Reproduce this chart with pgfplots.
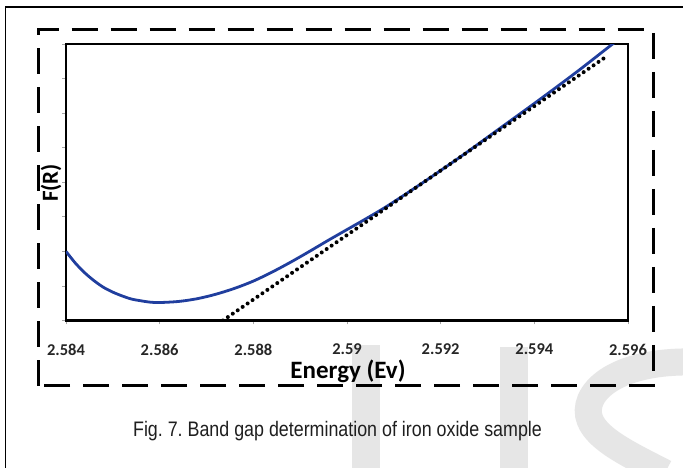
\documentclass[border=0pt]{standalone}
\usepackage{pgfplots}
\pgfplotsset{compat=1.18}
\usepackage{fontspec}
\setmainfont{Liberation Sans}
\newfontfamily\carlito{Carlito}
\definecolor{curveblue}{RGB}{32,62,158}
\definecolor{wm}{RGB}{230,230,230}
\frenchspacing
\begin{document}
\begin{tikzpicture}[x=1pt,y=1pt]
\useasboundingbox (0,0) rectangle (683,468);
\clip (0,0) rectangle (683,468);
\fill[white] (0,0) rectangle (683,468);
% watermark
\fill[wm] (352,0) rectangle (380,123);
\fill[wm] (500,0) rectangle (528,121);
\draw[wm, line width=27pt] (695,106) .. controls (612,108) and (580,73) .. (590,48) .. controls (598,28) and (630,13) .. (665,-5);
% outer solid frame
\draw[line width=1.5pt] (5.5,0) -- (5.5,461) -- (690,461);
\begin{axis}[
  at={(66pt,147.5pt)}, anchor=south west,
  scale only axis, width=562pt, height=276.5pt,
  xmin=2.584, xmax=2.596, ymin=0, ymax=8,
  xtick={2.584,2.586,2.588,2.590,2.592,2.594,2.596},
  xticklabels={2.584,2.586,2.588,2.59,2.592,2.594,2.596},
  ytick={0,1,2,3,4,5,6,7,8}, yticklabels={},
  tick align=outside, major tick length=4pt,
  xtick pos=bottom, ytick pos=left,
  tick style={gray!70, line width=0.8pt},
  axis line style={line width=2.2pt},
  xticklabel style={font=\carlito\bfseries\fontsize{16.5}{18}\selectfont, text=black!85, anchor=center, inner sep=0pt, yshift=-25pt},
  clip=true,
]
\addplot[curveblue, line width=2.8pt, smooth] coordinates {
(2.5840,2.00) (2.5842,1.66) (2.5844,1.38) (2.5846,1.15) (2.5848,0.96)
(2.5850,0.82) (2.5852,0.71) (2.5854,0.62) (2.5856,0.57) (2.5858,0.53)
(2.5860,0.52) (2.5864,0.55) (2.5868,0.63) (2.5872,0.76) (2.5876,0.93)
(2.5880,1.14) (2.5884,1.40) (2.5888,1.69) (2.5892,2.00) (2.5896,2.32)
(2.5900,2.63) (2.5904,2.94) (2.5908,3.26) (2.5912,3.61) (2.5916,3.97)
(2.5920,4.34) (2.5925,4.81) (2.5930,5.30) (2.5935,5.79) (2.5940,6.28)
(2.5945,6.78) (2.5950,7.29) (2.5955,7.82) (2.5957,8.03)
};
\addplot[black, line width=4pt, line cap=round, dash pattern=on 0pt off 6pt] coordinates {
(2.58735,0) (2.59553,7.63)
};
\end{axis}
% dashed frame
\draw[line width=3pt, dash pattern=on 26pt off 13pt] (38,82) -- (38,438.5) -- (653,438.5) -- (653,82) -- cycle;
% labels
\node[font=\carlito\bfseries\fontsize{25}{28}\selectfont, inner sep=0pt] at (348,97) {Energy (Ev)};
\node[font=\carlito\bfseries\fontsize{23}{26}\selectfont, rotate=90, inner sep=0pt] at (51,285) {F(R)};
% caption
\node[inner sep=0pt, text=black!88] at (337.5,37) {\scalebox{0.85}[1]{\fontsize{21}{24}\selectfont Fig. 7. Band gap determination of iron oxide sample}};
\end{tikzpicture}
\end{document}
